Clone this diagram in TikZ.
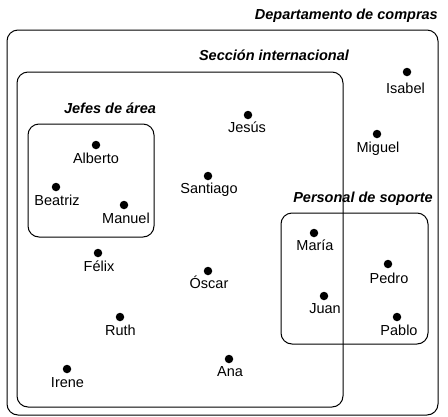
\documentclass[tikz,border=0pt]{standalone}
\usepackage{fontspec}
\setmainfont{Liberation Sans}
\begin{document}
\begin{tikzpicture}[x=1pt,y=-1pt,
  box/.style={draw=black,line width=1pt,rounded corners=11pt},
  dot/.style={circle,fill=black,inner sep=0pt,minimum size=8.5pt},
  person/.style={anchor=base,inner sep=0pt,font=\fontsize{14.5}{17}\selectfont},
  title/.style={anchor=base,inner sep=0pt,font=\fontsize{14.5}{17}\selectfont\bfseries\itshape}]
\useasboundingbox (0,0) rectangle (448,416);
% boxes
\draw[box] (7,30) rectangle (438,415);
\draw[box] (17,72) rectangle (343,407);
\draw[box] (28,124) rectangle (154,237);
\draw[box] (281,213) rectangle (428,344);
% titles
\node[title,anchor=base east] (t-dep) at (438,19) {Departamento de compras};
\node[title] (t-sec) at (274,60) {Sección internacional};
\node[title] (t-jef) at (110,113) {Jefes de área};
\node[title] (t-per) at (363,202) {Personal de soporte};
% people
\node[dot] (isabel) at (407,72) {};   \node[person] (isabel-t) at (405.5,93.5) {Isabel};
\node[dot] (jesus) at (248,115) {};   \node[person] (jesus-t) at (247,132) {Jesús};
\node[dot] (miguel) at (377,134) {};  \node[person] (miguel-t) at (378,152) {Miguel};
\node[dot] (alberto) at (96,145) {};  \node[person] (alberto-t) at (96,163) {Alberto};
\node[dot] (beatriz) at (56,187) {};  \node[person] (beatriz-t) at (57,205) {Beatriz};
\node[dot] (manuel) at (124,205) {};  \node[person] (manuel-t) at (126,223) {Manuel};
\node[dot] (santiago) at (208,176) {}; \node[person] (santiago-t) at (209,193.5) {Santiago};
\node[dot] (maria) at (314,233) {};   \node[person] (maria-t) at (315,250.5) {María};
\node[dot] (felix) at (98,253) {};    \node[person] (felix-t) at (99,271.5) {Félix};
\node[dot] (oscar) at (208,271) {};   \node[person] (oscar-t) at (209,288) {Óscar};
\node[dot] (pedro) at (388,264) {};   \node[person] (pedro-t) at (389,283) {Pedro};
\node[dot] (juan) at (324,296) {};    \node[person] (juan-t) at (325,313) {Juan};
\node[dot] (pablo) at (397,317) {};   \node[person] (pablo-t) at (399,335) {Pablo};
\node[dot] (ruth) at (120,317) {};    \node[person] (ruth-t) at (120.5,335) {Ruth};
\node[dot] (ana) at (229,359) {};     \node[person] (ana-t) at (230,376.5) {Ana};
\node[dot] (irene) at (67,369) {};    \node[person] (irene-t) at (67.5,387) {Irene};
\end{tikzpicture}
\end{document}
